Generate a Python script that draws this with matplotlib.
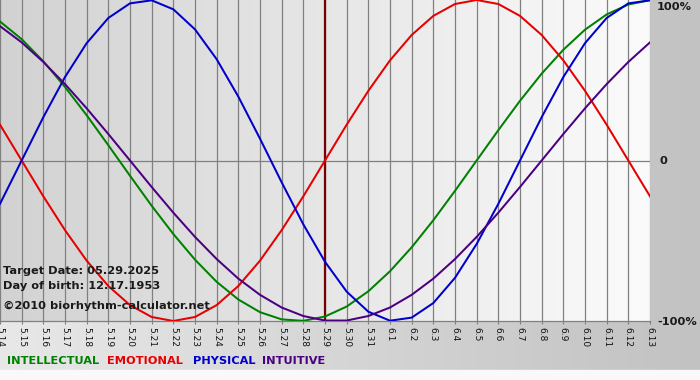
import numpy as np
import matplotlib
matplotlib.use("Agg")
import matplotlib.pyplot as plt
from matplotlib.colors import LinearSegmentedColormap

# ---- data ----
days = ["5.14", "5.15", "5.16", "5.17", "5.18", "5.19", "5.20", "5.21", "5.22", "5.23",
        "5.24", "5.25", "5.26", "5.27", "5.28", "5.29", "5.30", "5.31", "6.1", "6.2",
        "6.3", "6.4", "6.5", "6.6", "6.7", "6.8", "6.9", "6.10", "6.11", "6.12", "6.13"]

physical = [-0.270, 0.000, 0.270, 0.520, 0.731, 0.888, 0.979, 0.998, 0.942, 0.817,
            0.631, 0.398, 0.136, -0.136, -0.398, -0.631, -0.817, -0.942, -0.998, -0.979,
            -0.888, -0.731, -0.520, -0.270, 0.000, 0.270, 0.520, 0.731, 0.888, 0.979, 0.998]

emotional = [0.223, 0.000, -0.223, -0.434, -0.624, -0.782, -0.901, -0.975, -1.000, -0.975,
             -0.901, -0.782, -0.624, -0.434, -0.223, 0.000, 0.223, 0.434, 0.624, 0.782,
             0.901, 0.975, 1.000, 0.975, 0.901, 0.782, 0.624, 0.434, 0.223, 0.000, -0.223]

intellectual = [0.866, 0.756, 0.618, 0.458, 0.282, 0.095, -0.095, -0.282, -0.458, -0.618,
                -0.756, -0.866, -0.945, -0.990, -0.999, -0.972, -0.910, -0.815, -0.690, -0.541,
                -0.372, -0.189, 0.000, 0.189, 0.372, 0.541, 0.690, 0.815, 0.910, 0.972, 0.999]

intuitive = [0.837, 0.736, 0.614, 0.476, 0.325, 0.165, 0.000, -0.165, -0.325, -0.476,
             -0.614, -0.736, -0.837, -0.916, -0.969, -0.997, -0.997, -0.969, -0.916, -0.837,
             -0.736, -0.614, -0.476, -0.325, -0.165, 0.000, 0.165, 0.325, 0.476, 0.614, 0.736]

target_label = "5.29"
info_lines = ["Target Date: 05.29.2025", "Day of birth: 12.17.1953"]
copyright_text = "\u00a92010 biorhythm-calculator.net"
legend_names = ["INTELLECTUAL", "EMOTIONAL", "PHYSICAL", "INTUITIVE"]
right_labels = ["100%", "0", "-100%"]

# ---- figure ----
W, H = 700, 380
fig = plt.figure(figsize=(W / 100, H / 100), dpi=100)
plt.rcParams['font.family'] = ['DejaVu Sans']

# outer background
bg = fig.add_axes([0, 0, 1, 1])
bg.set_xlim(0, W)
bg.set_ylim(H, 0)
bg.axis("off")
outer_cmap = LinearSegmentedColormap.from_list("o", ["#e8e8e8", "#c2c2c2"])
grad = np.linspace(0, 1, 256).reshape(1, -1)
bg.imshow(grad, cmap=outer_cmap, extent=[0, W, 370, 0], aspect="auto", zorder=0)
bg.add_patch(plt.Rectangle((0, 370), W, 10, color="#f9f9f9", zorder=1))

# plot area
px_left, px_right, px_top, px_bottom = 0, 650, 0, 321
ax = fig.add_axes([px_left / W, 1 - px_bottom / H, (px_right - px_left) / W, (px_bottom - px_top) / H])
ax.set_zorder(1)
x = np.arange(len(days))
ax.set_xlim(0, len(days) - 1)
ax.set_ylim(-1, 1.0)

plot_cmap = LinearSegmentedColormap.from_list("p", ["#d2d2d2", "#fbfbfb"])
ax.imshow(grad, cmap=plot_cmap, extent=[0, len(days) - 1, -1, 1], aspect="auto", zorder=0)

for xi in x:
    ax.axvline(xi, color="#808080", lw=0.9, zorder=1)
ax.axhline(0, color="#808080", lw=0.9, zorder=1)

ti = days.index(target_label)
ax.axvline(ti, color="#7a0000", lw=1.6, zorder=2)

lw = 1.45
ax.plot(x, intellectual, color="#008000", lw=lw, zorder=3)
ax.plot(x, emotional, color="#e60000", lw=lw, zorder=3)
ax.plot(x, physical, color="#0000cc", lw=lw, zorder=3)
ax.plot(x, intuitive, color="#4b0082", lw=lw, zorder=3)

for s in ["top", "left", "right"]:
    ax.spines[s].set_visible(False)
ax.spines["bottom"].set_color("#808080")
ax.spines["bottom"].set_linewidth(0.9)
ax.set_yticks([])
ax.set_xticks(x)
ax.set_xticklabels(days, rotation=-90, fontsize=6.5, color="#111111")
ax.tick_params(axis="x", length=2.5, width=0.8, color="#808080", pad=1.5)

# overlay texts (drawn above the plot)
fs = 8.2
def ftext(px, py, s, color="#1a1a1a"):
    fig.text(px / W, 1 - py / H, s, fontsize=fs, fontweight="bold", color=color,
             va="center", ha="left", zorder=10)

ftext(3, 271, info_lines[0])
ftext(3, 286, info_lines[1])
ftext(3, 306, copyright_text)

ftext(657, 7, right_labels[0])
ftext(659, 161, right_labels[1])
ftext(657, 322, right_labels[2])

legend_colors = ["#008000", "#e60000", "#0000cc", "#4b0082"]
legend_x = [7, 107, 193, 262]
for name, c, lx in zip(legend_names, legend_colors, legend_x):
    ftext(lx, 361, name, c)

fig.savefig("out.png", dpi=100)
